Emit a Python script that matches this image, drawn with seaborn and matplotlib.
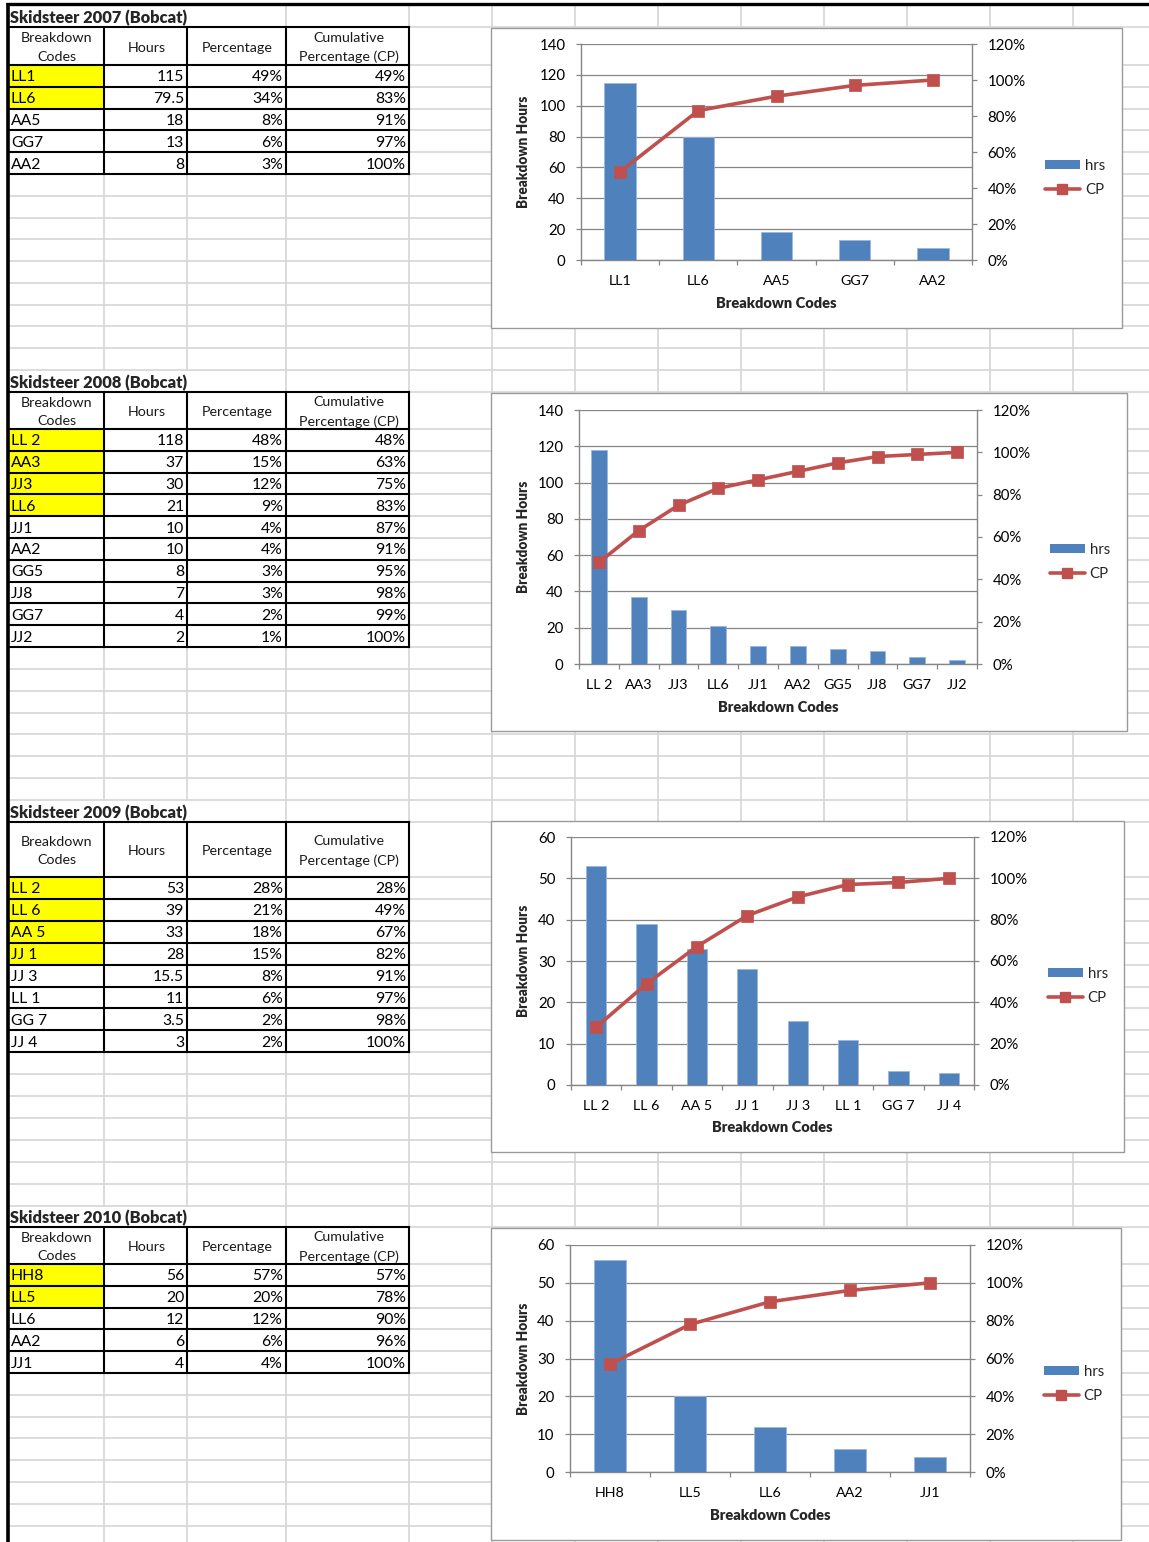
import numpy as np
import matplotlib
matplotlib.use("Agg")
import matplotlib.pyplot as plt
import seaborn as sns
from matplotlib.patches import Rectangle, Patch
from matplotlib.lines import Line2D
from matplotlib.ticker import FixedLocator, FuncFormatter

sns.set_theme(style="white")
plt.rcParams['font.family'] = ['Lato', 'DejaVu Sans']

# ---------------- data ----------------
title_2007 = "Skidsteer 2007 (Bobcat)"
codes_2007 = ["LL1", "LL6", "AA5", "GG7", "AA2"]
hours_2007 = [115, 79.5, 18, 13, 8]
pct_2007 = [49, 34, 8, 6, 3]
cp_2007 = [49, 83, 91, 97, 100]
highlight_2007 = 2

title_2008 = "Skidsteer 2008 (Bobcat)"
codes_2008 = ["LL 2", "AA3", "JJ3", "LL6", "JJ1", "AA2", "GG5", "JJ8", "GG7", "JJ2"]
hours_2008 = [118, 37, 30, 21, 10, 10, 8, 7, 4, 2]
pct_2008 = [48, 15, 12, 9, 4, 4, 3, 3, 2, 1]
cp_2008 = [48, 63, 75, 83, 87, 91, 95, 98, 99, 100]
highlight_2008 = 4

title_2009 = "Skidsteer 2009 (Bobcat)"
codes_2009 = ["LL 2", "LL 6", "AA 5", "JJ 1", "JJ 3", "LL 1", "GG 7", "JJ 4"]
hours_2009 = [53, 39, 33, 28, 15.5, 11, 3.5, 3]
pct_2009 = [28, 21, 18, 15, 8, 6, 2, 2]
cp_2009 = [28, 49, 67, 82, 91, 97, 98, 100]
highlight_2009 = 4

title_2010 = "Skidsteer 2010 (Bobcat)"
codes_2010 = ["HH8", "LL5", "LL6", "AA2", "JJ1"]
hours_2010 = [56, 20, 12, 6, 4]
pct_2010 = [57, 20, 12, 6, 4]
cp_2010 = [57, 78, 90, 96, 100]
highlight_2010 = 2

header_labels = ["Breakdown\nCodes", "Hours", "Percentage", "Cumulative\nPercentage (CP)"]
legend_labels = ["hrs", "CP"]
x_label = "Breakdown Codes"
y_label = "Breakdown Hours"

# ---------------- styling / layout ----------------
BAR = "#4F81BD"
LINE = "#C0504D"
AXG = "#868686"
GRID = "#d6d6d6"
YEL = "#FFFF00"

W, H = 1149, 1542
fig = plt.figure(figsize=(W / 100, H / 100), dpi=100)
bg = fig.add_axes([0, 0, 1, 1], zorder=0)
bg.set_xlim(0, W)
bg.set_ylim(H, 0)
bg.axis("off")

cols = [8, 104, 187, 286, 409, 492, 575, 658, 741, 824, 907, 990, 1073]

sections = [
    dict(title=title_2007, codes=codes_2007, hours=hours_2007, pct=pct_2007, cp=cp_2007, hl=highlight_2007,
         t0=5, h0=27, h1=65, rh=21.8,
         box=(491, 28, 1122, 328), plot=(581, 44, 972, 260), ymax=140, ystep=20,
         leg=(1045, 178), ylx=524, xly=304),
    dict(title=title_2008, codes=codes_2008, hours=hours_2008, pct=pct_2008, cp=cp_2008, hl=highlight_2008,
         t0=370, h0=392, h1=429, rh=21.8,
         box=(491, 393, 1127, 731), plot=(579, 410, 977, 664), ymax=140, ystep=20,
         leg=(1050, 562), ylx=524, xly=708),
    dict(title=title_2009, codes=codes_2009, hours=hours_2009, pct=pct_2009, cp=cp_2009, hl=highlight_2009,
         t0=800, h0=822, h1=877, rh=21.9,
         box=(491, 821, 1124, 1152), plot=(571, 837, 974, 1085), ymax=60, ystep=10,
         leg=(1048, 986), ylx=524, xly=1128),
    dict(title=title_2010, codes=codes_2010, hours=hours_2010, pct=pct_2010, cp=cp_2010, hl=highlight_2010,
         t0=1206, h0=1227, h1=1264, rh=21.8,
         box=(491, 1228, 1121, 1540), plot=(570, 1245, 970, 1472), ymax=60, ystep=10,
         leg=(1044, 1384), ylx=524, xly=1515),
]

# spreadsheet row lines
rows = []
for i, s in enumerate(sections):
    rows += [s["t0"], s["h0"]]
    n = len(s["codes"])
    rows += list(s["h1"] + np.arange(n + 1) * s["rh"])
    end = s["h1"] + n * s["rh"]
    nxt = sections[i + 1]["t0"] if i + 1 < len(sections) else None
    if nxt is not None:
        k = int(round((nxt - end) / 21.8))
        rows += list(np.linspace(end, nxt, k + 1)[1:-1])
    else:
        rows += list(end + np.arange(1, 9) * 21.8)

for y in rows:
    bg.plot([8, W], [y, y], color=GRID, lw=1.2, zorder=1, solid_capstyle="butt")
for x in cols:
    bg.plot([x, x], [4, H], color=GRID, lw=1.2, zorder=1, solid_capstyle="butt")

# outer black borders
bg.plot([6, W], [4, 4], color="black", lw=2.4, zorder=10, solid_capstyle="butt")
bg.plot([7.5, 7.5], [3, H], color="black", lw=2.6, zorder=10, solid_capstyle="butt")

txt_kw = dict(fontsize=11.3, color="black", zorder=6)
for s in sections:
    n = len(s["codes"])
    rb = s["h1"] + np.arange(n + 1) * s["rh"]
    # title row (text overflow hides gridlines)
    bg.add_patch(Rectangle((9, s["t0"] + 1), 276, s["h0"] - s["t0"] - 2, facecolor="white",
                           edgecolor="none", zorder=2))
    bg.text(10, (s["t0"] + s["h0"]) / 2 + 1.5, s["title"], fontsize=11.8, fontweight="heavy",
            ha="left", va="center", zorder=6)
    # white table body
    bg.add_patch(Rectangle((8, s["h0"]), 401, rb[-1] - s["h0"], facecolor="white",
                           edgecolor="none", zorder=2))
    # yellow highlights
    for i in range(s["hl"]):
        bg.add_patch(Rectangle((9, rb[i]), 95, s["rh"], facecolor=YEL, edgecolor="none", zorder=3))
    # black cell borders
    for y in [s["h0"]] + list(rb):
        bg.plot([8, 409], [y, y], color="black", lw=1.5, zorder=5, solid_capstyle="projecting")
    for x in [104, 187, 286, 409]:
        bg.plot([x, x], [s["h0"], rb[-1]], color="black", lw=1.5, zorder=5, solid_capstyle="projecting")
    # header
    hc = (s["h0"] + s["h1"]) / 2 + 1.5
    for j, lab in enumerate(header_labels):
        bg.text((cols[j] + cols[j + 1]) / 2 + 1, hc, lab, fontsize=10.3, ha="center", va="center",
                linespacing=1.65, zorder=6, color="#1a1a1a")
    # body
    for i in range(n):
        yc = (rb[i] + rb[i + 1]) / 2 + 1.5
        bg.text(11, yc, s["codes"][i], ha="left", va="center", **txt_kw)
        bg.text(184, yc, f"{s['hours'][i]:g}", ha="right", va="center", **txt_kw)
        bg.text(283, yc, f"{s['pct'][i]}%", ha="right", va="center", **txt_kw)
        bg.text(406, yc, f"{s['cp'][i]}%", ha="right", va="center", **txt_kw)

    # chart box
    bx0, by0, bx1, by1 = s["box"]
    bg.add_patch(Rectangle((bx0, by0), bx1 - bx0, by1 - by0, facecolor="white",
                           edgecolor="#9a9a9a", lw=1.0, zorder=7))

# ---------------- charts ----------------
def add_ax(x0, y0, x1, y1, z):
    return fig.add_axes([x0 / W, 1 - y1 / H, (x1 - x0) / W, (y1 - y0) / H], zorder=z)

for k, s in enumerate(sections):
    x0, y0, x1, y1 = s["plot"]
    pw, ph = x1 - x0, y1 - y0
    ax = add_ax(x0, y0, x1, y1, 2 + 2 * k)
    ax.patch.set_alpha(0)
    n = len(s["codes"])
    sns.barplot(x=s["codes"], y=s["hours"], color=BAR, saturation=1, width=0.4, ax=ax,
                edgecolor="#9bb7dc", linewidth=0.6, zorder=3)
    ax.set_ylim(0, s["ymax"])
    ax.set_xlim(-0.5, n - 0.5)
    ax.yaxis.set_major_locator(FixedLocator(np.arange(0, s["ymax"] + 1, s["ystep"])))
    ax.yaxis.grid(True, color=AXG, lw=0.9, zorder=0)
    ax.set_axisbelow(True)
    for sp in ["top", "right"]:
        ax.spines[sp].set_visible(False)
    for sp in ["left", "bottom"]:
        ax.spines[sp].set_color(AXG)
        ax.spines[sp].set_linewidth(1.0)
    ax.tick_params(axis="y", which="major", left=True, length=3.6, width=0.9, color=AXG,
                   pad=7.5, labelsize=10.8, labelcolor="black", direction="out")
    ax.set_xticks(np.arange(n))
    ax.set_xticklabels(s["codes"])
    ax.set_xticks(np.arange(n + 1) - 0.5, minor=True)
    ax.tick_params(axis="x", which="major", bottom=True, length=0, pad=11, labelsize=10.3,
                   labelcolor="black")
    ax.tick_params(axis="x", which="minor", bottom=True, length=3.6, width=0.9, color=AXG,
                   direction="out")
    ax.set_xlabel(x_label, fontsize=10.5, fontweight="heavy", va="center")
    ax.xaxis.set_label_coords(0.5, -(s["xly"] - y1) / ph)
    ax.set_ylabel(y_label, fontsize=9.8, fontweight="heavy", va="center")
    ax.yaxis.set_label_coords(-(x0 - s["ylx"]) / pw, 0.5)

    ax2 = ax.twinx()
    ax2.set_zorder(3 + 2 * k)
    sns.pointplot(x=s["codes"], y=[v / 100 for v in s["cp"]], color=LINE, markers="s",
                  linestyles="-", markersize=7.3, linewidth=2.6, errorbar=None, ax=ax2)
    ax2.set_ylim(0, 1.2)
    ax2.set_xlim(-0.5, n - 0.5)
    ax2.yaxis.set_major_locator(FixedLocator(np.arange(0, 1.21, 0.2)))
    ax2.yaxis.set_major_formatter(FuncFormatter(lambda v, p: f"{v * 100:.0f}%"))
    ax2.set_ylabel("")
    ax2.set_xlabel("")
    ax2.grid(False)
    for sp in ["top", "left", "bottom"]:
        ax2.spines[sp].set_visible(False)
    ax2.spines["right"].set_color(AXG)
    ax2.spines["right"].set_linewidth(1.0)
    ax2.tick_params(axis="y", right=True, length=3.6, width=0.9, color=AXG, pad=7.5,
                    labelsize=10.8, labelcolor="black", direction="out")

    handles = [Patch(facecolor=BAR, edgecolor="none"),
               Line2D([], [], color=LINE, lw=2.6, marker="s", markersize=7.3)]
    lx, ly = s["leg"]
    ax2.legend(handles, legend_labels, loc="center left",
               bbox_to_anchor=(lx / W, 1 - ly / H), bbox_transform=fig.transFigure,
               frameon=False, fontsize=10.8, handlelength=2.3, handleheight=0.5,
               handletextpad=0.35, labelspacing=0.7, borderpad=0, borderaxespad=0)

fig.savefig("out.png", dpi=100)
